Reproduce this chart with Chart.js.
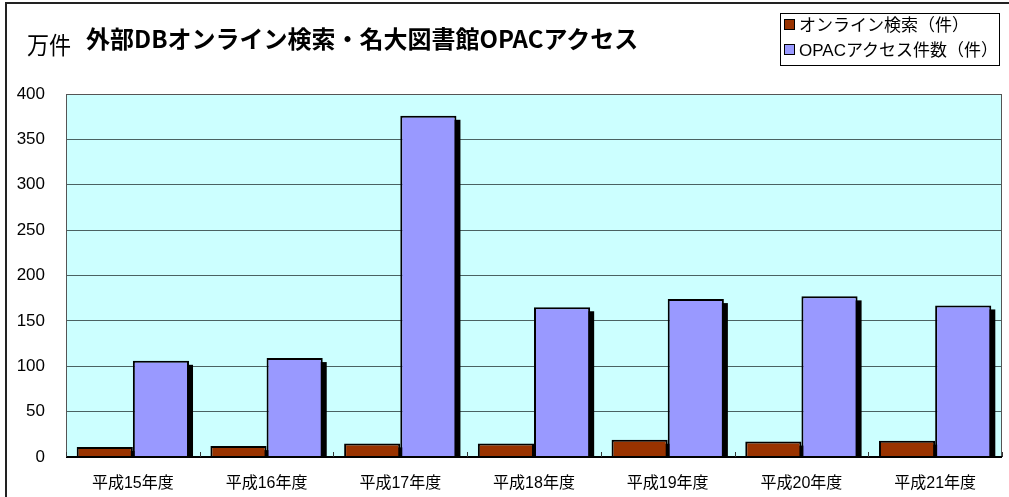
<!DOCTYPE html>
<html>
<head>
<meta charset="utf-8">
<script src="https://cdn.jsdelivr.net/npm/chart.js@4/dist/chart.umd.min.js"></script>
<style>
    body { margin: 0; background: #fff; }
    #wrap { position: relative; width: 1009px; height: 497px; overflow: hidden; }
    #frame { position: absolute; left: 5px; top: 2px; width: 1020px; height: 520px; border-left: 2px solid #222; border-top: 2px solid #222; }
    canvas { position: absolute; left: 0; top: 0; }
    .unit { position: absolute; left: 27px; top: 29px; font: 24px "Noto Sans CJK JP", sans-serif; color: #000; line-height: 30px; transform: scaleX(0.92); transform-origin: left; }
    .title { position: absolute; left: 86px; top: 22px; font: bold 24px "Noto Sans CJK JP", sans-serif; color: #000; line-height: 32px; white-space: nowrap; }
    .legend { position: absolute; left: 780px; top: 13px; width: 218px; height: 51px; border: 1px solid #000; font: 17px "Liberation Sans", "Noto Sans CJK JP", sans-serif; }
    .legend div { position: absolute; left: 3px; white-space: nowrap; line-height: 22px; }
    .legend span { display: inline-block; width: 9px; height: 9px; border: 1px solid #000; margin-right: 4px; vertical-align: 1px; }
</style>
</head>
<body>
<div id="wrap">
    <canvas id="main-chart" width="1009" height="497"></canvas>
    <div id="frame"></div>
    <div class="unit">万件</div>
    <div class="title">外部DBオンライン検索・名大図書館OPACアクセス</div>
    <div class="legend">
        <div style="top:1px"><span style="background:#993300"></span>オンライン検索（件）</div>
        <div style="top:26px"><span style="background:#9999FF"></span>OPACアクセス件数（件）</div>
    </div>
</div>
<script>
const categories = ['平成15年度', '平成16年度', '平成17年度', '平成18年度', '平成19年度', '平成20年度', '平成21年度'];
const onlineSearch = [11, 12, 15, 15, 19, 17, 18];
const opacAccess = [106, 109, 376, 165, 174, 177, 167];
const seriesNames = ['オンライン検索（件）', 'OPACアクセス件数（件）'];
const yMax = 400;
const yStep = 50;

// plot background, frame, shadows and small category ticks
const plotDecor = {
    id: 'plotDecor',
    beforeDraw(chart) {
        const { ctx, chartArea: a } = chart;
        ctx.save();
        ctx.fillStyle = '#CCFFFF';
        ctx.fillRect(a.left, a.top, a.right - a.left, a.bottom - a.top);
        ctx.restore();
    },
    beforeDatasetsDraw(chart) {
        const { ctx, chartArea: a } = chart;
        ctx.save();
        ctx.beginPath();
        ctx.rect(a.left, a.top, a.right - a.left + 10, a.bottom - a.top);
        ctx.clip();
        ctx.fillStyle = '#000';
        chart.data.datasets.forEach((ds, i) => {
            chart.getDatasetMeta(i).data.forEach(bar => {
                const w = bar.width;
                ctx.fillRect(bar.x - w / 2 + 4, bar.y + 4, w, bar.base - bar.y);
            });
        });
        ctx.restore();
    },
    afterDatasetsDraw(chart) {
        const { ctx, chartArea: a, scales } = chart;
        ctx.save();
        ctx.strokeStyle = '#555';
        ctx.lineWidth = 1;
        ctx.strokeRect(a.left + 0.5, a.top + 0.5, a.right - a.left - 1, a.bottom - a.top);
        ctx.strokeStyle = '#000';
        ctx.lineWidth = 2;
        ctx.beginPath();
        ctx.moveTo(a.left, a.bottom);
        ctx.lineTo(a.right, a.bottom);
        ctx.stroke();
        ctx.lineWidth = 1;
        ctx.strokeStyle = '#333';
        for (let i = 0; i <= categories.length; i++) {
            const x = Math.round(scales.x.getPixelForValue(i - 0.5)) + 0.5;
            ctx.beginPath();
            ctx.moveTo(x, a.bottom);
            ctx.lineTo(x, a.bottom - 5);
            ctx.stroke();
        }
        ctx.restore();
    }
};

const ctx = document.getElementById('main-chart').getContext('2d');
new Chart(ctx, {
    type: 'bar',
    data: {
        labels: categories,
        datasets: [{
            label: seriesNames[0],
            data: onlineSearch,
            backgroundColor: '#993300',
            borderColor: '#000',
            borderWidth: 2
        }, {
            label: seriesNames[1],
            data: opacAccess,
            backgroundColor: '#9999FF',
            borderColor: '#000',
            borderWidth: 2
        }]
    },
    options: {
        responsive: false,
        animation: false,
        layout: { padding: { top: 94, right: 7, left: 0, bottom: 0 } },
        datasets: { bar: { categoryPercentage: 0.84, barPercentage: 1 } },
        plugins: {
            legend: { display: false },
            tooltip: { enabled: false }
        },
        scales: {
            x: {
                grid: { display: false },
                border: { display: false },
                ticks: {
                    color: '#000',
                    padding: 9,
                    font: { family: '"Liberation Sans", "Noto Sans CJK JP"', size: 16 }
                },
                afterFit: s => { s.height = 40; }
            },
            y: {
                min: 0,
                max: yMax,
                grid: { color: '#4a6262', lineWidth: 1, drawTicks: false },
                border: { display: false },
                ticks: {
                    stepSize: yStep,
                    color: '#000',
                    padding: 21,
                    font: { family: '"Liberation Sans"', size: 17 }
                },
                afterFit: s => { s.width = 66; }
            }
        }
    },
    plugins: [plotDecor]
});
</script>
</body>
</html>
